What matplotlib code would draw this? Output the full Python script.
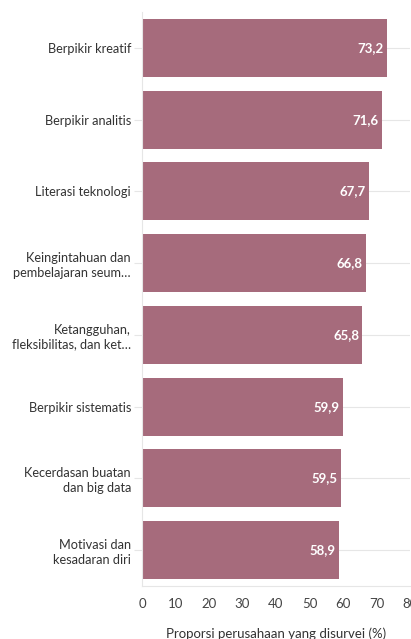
import matplotlib
matplotlib.use("Agg")
import matplotlib.pyplot as plt

categories = [
    "Berpikir kreatif",
    "Berpikir analitis",
    "Literasi teknologi",
    "Keingintahuan dan\npembelajaran seum…",
    "Ketangguhan,\nfleksibilitas, dan ket…",
    "Berpikir sistematis",
    "Kecerdasan buatan\ndan big data",
    "Motivasi dan\nkesadaran diri",
]
values = [73.2, 71.6, 67.7, 66.8, 65.8, 59.9, 59.5, 58.9]
xticks = [0, 10, 20, 30, 40, 50, 60, 70, 80]
xlabel = "Proporsi perusahaan yang disurvei (%)"

plt.rcParams['font.family'] = ['Lato', 'DejaVu Sans']

fig = plt.figure(figsize=(4.11, 6.39), dpi=100)
ax = fig.add_axes([142/411, 1 - 586/639, 268/411, (586 - 12)/639])

pos = list(range(len(categories)))
ax.barh(pos, values, height=0.81, color="#a66b7c", zorder=2)
for p, v in zip(pos, values):
    ax.text(v - 1.0, p, f"{v:.1f}".replace(".", ","), ha="right", va="center",
            color="white", fontsize=9.5, fontweight="bold", zorder=3)

ax.set_ylim(len(categories) - 0.5, -0.5)
ax.set_xlim(0, 80)
ax.set_yticks(pos)
ax.set_yticklabels(categories, fontsize=9.2, color="#333333", linespacing=1.25)
ax.set_xticks(xticks)
ax.set_xticklabels([str(t) for t in xticks], fontsize=9.5, color="#444444")
ax.tick_params(axis="y", length=6, color="#e6e6e6", pad=2)
ax.tick_params(axis="x", length=0, pad=9)
ax.grid(axis="y", color="#e6e6e6", linewidth=0.8, zorder=0)
for s in ["top", "right"]:
    ax.spines[s].set_visible(False)
ax.spines["left"].set_color("#e6e6e6")
ax.spines["bottom"].set_color("#e6e6e6")
ax.set_xlabel(xlabel, fontsize=9.5, color="#333333", labelpad=12)

fig.savefig("out.png", dpi=100)
